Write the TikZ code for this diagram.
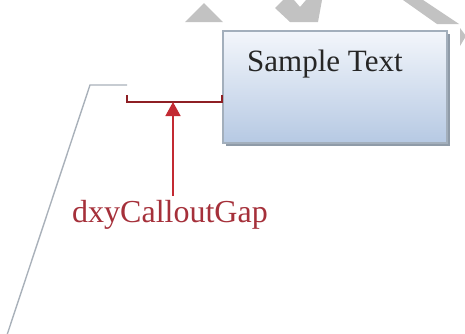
\documentclass[tikz,border=0pt]{standalone}
\usepackage{fontspec}
\setmainfont{Liberation Serif}
\usetikzlibrary{arrows.meta,positioning,shadows}
\definecolor{boxTop}{HTML}{F3F6FB}
\definecolor{boxBottom}{HTML}{B6C9E3}
\definecolor{boxEdge}{HTML}{A3AFBC}
\definecolor{boxShadow}{HTML}{8F9BA8}
\definecolor{leaderGray}{HTML}{A9B1BA}
\definecolor{gapBracket}{HTML}{8E1F24}
\definecolor{gapRed}{HTML}{C32A33}
\definecolor{gapTip}{HTML}{D81A20}
\definecolor{gapText}{HTML}{A5303A}
\definecolor{markGray}{HTML}{C2C2C2}
\begin{document}
\begin{tikzpicture}[x=1pt,y=-1pt,
      calloutbox/.style={
        rectangle, draw=boxEdge, line width=1.4pt, top color=boxTop, bottom color=boxBottom,
        minimum width=224pt, minimum height=112pt, inner sep=0pt,
        drop shadow={shadow xshift=2.5pt, shadow yshift=-2.5pt, fill=boxShadow, opacity=1}
      },
      boxtext/.style={anchor=base west, inner sep=0pt, font=\fontsize{31pt}{34pt}\selectfont, text=black!85},
      gaplabel/.style={anchor=base west, inner sep=0pt, font=\fontsize{32pt}{35pt}\selectfont, text=gapText},
      leaderline/.style={draw=leaderGray, line width=1.4pt},
      bracketline/.style={draw=gapBracket, line width=1.8pt},
      gaparrow/.style={-{Triangle[width=15pt,length=14pt]}, draw=gapRed, fill=gapTip, line width=1.5pt}
    ]
      \useasboundingbox (0,0) rectangle (465,333);

      % faint marks along the top edge
      \fill[markGray] (185,22) -- (204,3) -- (223,22) -- cycle;
      \fill[markGray] (283,0) -- (275,8) -- (290,22) -- (318,22) -- (322,0) -- (306,0) -- (300,7) -- (294,0) -- cycle;
      \fill[markGray] (403,0) -- (423,0) -- (459,24) -- (437,24) -- cycle;
      \fill[markGray] (460,28) -- (466,36) -- (460,46) -- cycle;

      % callout box
      \node[calloutbox] (box) at (335,87) {};
      \node[boxtext] (sample) at (247,71) {Sample Text};

      % leader line
      \coordinate (gapL) at (127,85);
      \coordinate (bend) at (90,85);
      \coordinate (tail) at (7,335);
      \draw[leaderline] (gapL) -- (bend) -- (tail);

      % gap bracket
      \coordinate (bl) at (127,95);
      \coordinate (br) at (box.west |- 0,95);
      \coordinate (mid) at (173,102);
      \draw[bracketline] (bl) -- (bl |- mid) -- (br |- mid) -- (br);

      % label and arrow
      \node[gaplabel] (gap) at (72,222) {dxyCalloutGap};
      \draw[gaparrow] (mid |- 0,196) -- (mid);
    \end{tikzpicture}
\end{document}
